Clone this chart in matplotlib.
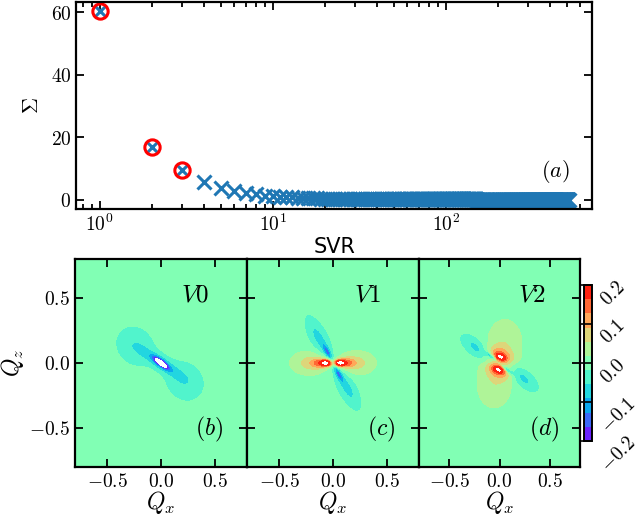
import numpy as np
import matplotlib.pyplot as plt
from matplotlib.ticker import FuncFormatter, FixedLocator, LogLocator, NullFormatter

plt.rcParams['mathtext.fontset'] = 'cm'
plt.rcParams['font.family'] = 'DejaVu Sans'

# singular values
sv_head = [60.3, 16.8, 9.6, 5.7, 3.8, 2.8, 2.3, 1.8, 1.4, 1.2,
           1.0, 0.9, 0.8, 0.7, 0.65, 0.6, 0.55, 0.5, 0.45, 0.42]
sv_tail_levels = [0.35, 0.2, 0.1]        # plateau values of the dense tail
sv_tail_counts = [30, 100, 362]          # how many points in each plateau
sv = np.array(sv_head + sum([[v] * n for v, n in zip(sv_tail_levels, sv_tail_counts)], []))
idx = np.arange(1, len(sv) + 1)
n_circled = 3

# lobes of the singular vectors: (amplitude, x0, z0, sigma_long, sigma_short, angle in deg)
v0_lobes = [(-0.30, 0.0, 0.0, 0.05, 0.018, -30),
            (-0.09, 0.0, 0.0, 0.13, 0.04, -28),
            (-0.05, -0.24, 0.13, 0.13, 0.105, -20),
            (-0.05, 0.22, -0.14, 0.13, 0.105, -20)]
v1_lobes = [(0.065, -0.22, 0.0, 0.115, 0.06, 0),
            (0.065, 0.22, 0.0, 0.115, 0.06, 0),
            (0.12, -0.11, 0.0, 0.06, 0.025, 0),
            (0.12, 0.11, 0.0, 0.06, 0.025, 0),
            (0.22, -0.06, 0.0, 0.03, 0.015, 0),
            (0.22, 0.06, 0.0, 0.03, 0.015, 0),
            (-0.068, -0.13, 0.19, 0.13, 0.055, 124),
            (-0.068, 0.13, -0.19, 0.13, 0.055, 124),
            (-0.12, -0.05, 0.08, 0.05, 0.02, 124),
            (-0.12, 0.05, -0.08, 0.05, 0.02, 124)]
v2_lobes = [(0.05, 0.05, 0.15, 0.13, 0.12, 80),
            (0.05, -0.05, -0.16, 0.13, 0.12, 80),
            (0.09, 0.01, 0.06, 0.09, 0.04, -15),
            (0.09, -0.01, -0.06, 0.09, 0.04, -15),
            (0.12, 0.01, 0.045, 0.04, 0.018, -15),
            (0.12, -0.01, -0.05, 0.04, 0.018, -15),
            (-0.07, -0.22, 0.11, 0.12, 0.05, -29),
            (-0.07, 0.22, -0.11, 0.12, 0.05, -29),
            (-0.12, -0.08, 0.05, 0.04, 0.013, -29),
            (-0.12, 0.07, -0.05, 0.04, 0.013, -29)]

names = ['V0', 'V1', 'V2']
tags = ['b', 'c', 'd']
levels = np.linspace(-0.2, 0.2, 12)


def field(lobes, X, Z):
    out = np.zeros_like(X)
    for a, x0, z0, sl, ss, ang in lobes:
        t = np.deg2rad(ang)
        u = (X - x0) * np.cos(t) + (Z - z0) * np.sin(t)
        w = -(X - x0) * np.sin(t) + (Z - z0) * np.cos(t)
        out += a * np.exp(-0.5 * (u / sl) ** 2 - 0.5 * (w / ss) ** 2)
    return out


q = np.linspace(-0.8, 0.8, 400)
X, Z = np.meshgrid(q, q)

math_fmt = FuncFormatter(lambda v, p: '$%g$' % v if abs(v) > 1e-9 else '$0$')
math_fmt1 = FuncFormatter(lambda v, p: '$%.1f$' % (0.0 if abs(v) < 1e-9 else v))

fig = plt.figure(figsize=(6.4, 5.15), dpi=100)

# ---- panel (a)
ax = fig.add_axes([0.119, 0.594, 0.806, 0.402])
ax.plot(idx[n_circled:], sv[n_circled:], 'x', color='#1f77b4', ms=10.5, mew=2.2)
ax.plot(idx[:n_circled], sv[:n_circled], 'x', color='#1f77b4', ms=7, mew=2.2)
ax.plot(idx[:n_circled], sv[:n_circled], 'o', mfc='none', mec='red', ms=11, mew=2.2)
ax.set_xscale('log')
ax.set_yticks([0, 20, 40, 60])
ax.yaxis.set_major_formatter(math_fmt)
ax.xaxis.set_major_locator(FixedLocator([1, 10, 100]))
ax.xaxis.set_major_formatter(FuncFormatter(lambda v, p: '$10^{%d}$' % round(np.log10(v))))
ax.xaxis.set_minor_locator(LogLocator(subs=np.arange(2, 10)))
ax.xaxis.set_minor_formatter(NullFormatter())
ax.tick_params(which='both', direction='in', top=True, right=True, labelsize=14, width=1.3)
ax.tick_params(which='major', length=6)
ax.tick_params(which='minor', length=3.5)
ax.set_xlabel('SVR', fontsize=15, labelpad=1)
ax.set_ylabel(r'$\Sigma$', fontsize=16, labelpad=6)
ax.text(0.93, 0.18, '$(a)$', transform=ax.transAxes, fontsize=16, ha='center', va='center')
for s in ax.spines.values():
    s.set_linewidth(1.6)

# ---- panels (b)-(d)
boxes = [[0.1172, 0.0932, 0.26875, 0.404],
         [0.3859, 0.0932, 0.26875, 0.404],
         [0.6547, 0.0932, 0.2516, 0.404]]
for i, lobes in enumerate([v0_lobes, v1_lobes, v2_lobes]):
    a = fig.add_axes(boxes[i])
    cs = a.contourf(X, Z, field(lobes, X, Z), levels=levels, cmap='rainbow')
    a.set_xlim(-0.8, 0.8)
    a.set_ylim(-0.8, 0.8)
    a.set_xticks([-0.5, 0, 0.5])
    a.set_yticks([-0.5, 0, 0.5])
    a.xaxis.set_major_formatter(math_fmt1)
    a.yaxis.set_major_formatter(math_fmt1)
    a.tick_params(direction='in', top=True, right=True, length=6, width=1.3, labelsize=14)
    if i > 0:
        a.tick_params(labelleft=False)
    else:
        a.set_ylabel('$Q_z$', fontsize=17, labelpad=2)
    a.set_xlabel('$Q_x$', fontsize=17, labelpad=-1)
    a.text(0.70, 0.83, '$%s$' % names[i], transform=a.transAxes, fontsize=18, ha='center', va='center')
    a.text(0.78, 0.18, '$(%s)$' % tags[i], transform=a.transAxes, fontsize=17, ha='center', va='center')
    for s in a.spines.values():
        s.set_linewidth(1.6)

cax = fig.add_axes([0.9125, 0.1437, 0.0125, 0.303])
cb = fig.colorbar(cs, cax=cax, ticks=[-0.2, -0.1, 0, 0.1, 0.2])
cb.ax.yaxis.set_major_formatter(math_fmt1)
cb.ax.tick_params(direction='in', length=8, width=1.2, labelsize=14, labelrotation=45)
cb.outline.set_linewidth(1.4)

fig.savefig('out.png', dpi=100)
